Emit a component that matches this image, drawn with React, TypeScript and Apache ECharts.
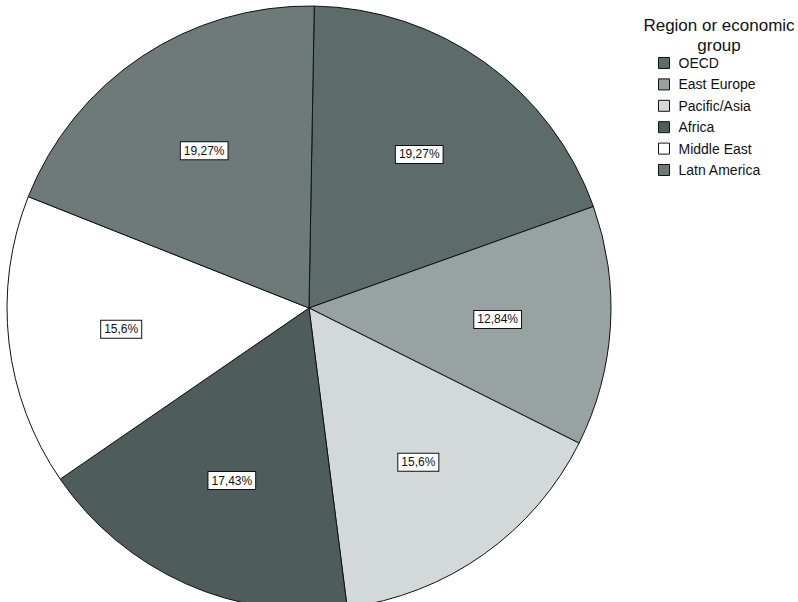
import React, { useEffect, useRef } from "react";
import * as echarts from "echarts";

// Share of each region or economic group, in percent
const regions = ["OECD", "East Europe", "Pacific/Asia", "Africa", "Middle East", "Latn America"];
const shares = [19.27, 12.84, 15.6, 17.43, 15.6, 19.27];
const sliceColors = ["#5e6b6b", "#98a2a2", "#d3d9d9", "#4f5c5c", "#ffffff", "#6e7a7a"];

const FONT = "'Liberation Sans', Arial, sans-serif";
const CENTER = [309, 308];
const RADIUS = 302;

export default function App() {
  const ref = useRef<HTMLDivElement>(null);

  useEffect(() => {
    if (!ref.current) return;
    const chart = echarts.init(ref.current, undefined, { renderer: "svg" });

    const data = regions.map((name, i) => ({
      name,
      value: shares[i],
      itemStyle: { color: sliceColors[i] },
    }));

    chart.setOption({
      animation: false,
      backgroundColor: "#ffffff",
      title: {
        text: "Region or economic\ngroup",
        left: 714,
        top: 10,
        textAlign: "center",
        textStyle: {
          fontFamily: FONT,
          fontSize: 17,
          fontWeight: "normal",
          color: "#111",
          lineHeight: 20,
        },
      },
      legend: {
        orient: "vertical",
        left: 653,
        top: 51,
        icon: "rect",
        itemWidth: 11,
        itemHeight: 11,
        itemGap: 7.4,
        selectedMode: false,
        data: regions,
        itemStyle: { borderColor: "#111", borderWidth: 1 },
        textStyle: {
          fontFamily: FONT,
          fontSize: 14,
          color: "#111",
          lineHeight: 14,
          padding: [0, 0, 0, 4],
        },
      },
      series: [
        {
          type: "pie",
          center: CENTER,
          radius: [0, RADIUS],
          startAngle: 89,
          clockwise: true,
          silent: true,
          label: { show: false },
          labelLine: { show: false },
          itemStyle: { borderColor: "#111", borderWidth: 1 },
          data,
        },
        {
          // transparent ring used only to place the percentage labels
          type: "pie",
          center: CENTER,
          radius: [70, RADIUS],
          startAngle: 89,
          clockwise: true,
          silent: true,
          legendHoverLink: false,
          z: 5,
          itemStyle: { color: "rgba(0,0,0,0)", borderWidth: 0 },
          labelLine: { show: false },
          label: {
            show: true,
            position: "inside",
            formatter: (p: any) => `${String(p.value).replace(".", ",")}%`,
            fontFamily: FONT,
            fontSize: 12,
            color: "#111",
            backgroundColor: "#ffffff",
            borderColor: "#111",
            borderWidth: 1,
            padding: [3, 3, 2, 3],
          },
          data: regions.map((name, i) => ({ name: name + " ", value: shares[i] })),
        },
      ],
    });

    return () => chart.dispose();
  }, []);

  return (
    <div
      ref={ref}
      style={{ position: "fixed", left: 0, top: 0, width: 798, height: 602 }}
    />
  );
}
